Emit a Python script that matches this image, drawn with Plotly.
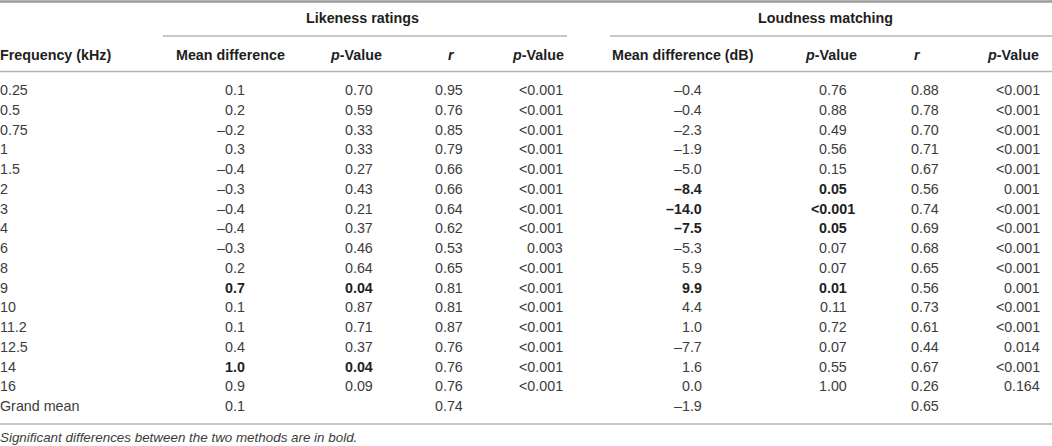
import plotly.graph_objects as go

# ---------------- data ----------------
freq_labels = ["0.25", "0.5", "0.75", "1", "1.5", "2", "3", "4", "6", "8", "9",
               "10", "11.2", "12.5", "14", "16", "Grand mean"]

lr_mean = [0.1, 0.2, -0.2, 0.3, -0.4, -0.3, -0.4, -0.4, -0.3, 0.2, 0.7,
           0.1, 0.1, 0.4, 1.0, 0.9, 0.1]
lr_p = ["0.70", "0.59", "0.33", "0.33", "0.27", "0.43", "0.21", "0.37", "0.46",
        "0.64", "0.04", "0.87", "0.71", "0.37", "0.04", "0.09", ""]
lr_r = [0.95, 0.76, 0.85, 0.79, 0.66, 0.66, 0.64, 0.62, 0.53, 0.65, 0.81,
        0.81, 0.87, 0.76, 0.76, 0.76, 0.74]
lr_rp = ["<0.001", "<0.001", "<0.001", "<0.001", "<0.001", "<0.001", "<0.001",
         "<0.001", "0.003", "<0.001", "<0.001", "<0.001", "<0.001", "<0.001",
         "<0.001", "<0.001", ""]
lr_bold = [False] * 10 + [True] + [False] * 3 + [True] + [False] * 2

lm_mean = [-0.4, -0.4, -2.3, -1.9, -5.0, -8.4, -14.0, -7.5, -5.3, 5.9, 9.9,
           4.4, 1.0, -7.7, 1.6, 0.0, -1.9]
lm_p = ["0.76", "0.88", "0.49", "0.56", "0.15", "0.05", "<0.001", "0.05", "0.07",
        "0.07", "0.01", "0.11", "0.72", "0.07", "0.55", "1.00", ""]
lm_r = [0.88, 0.78, 0.70, 0.71, 0.67, 0.56, 0.74, 0.69, 0.68, 0.65, 0.56,
        0.73, 0.61, 0.44, 0.67, 0.26, 0.65]
lm_rp = ["<0.001", "<0.001", "<0.001", "<0.001", "<0.001", "0.001", "<0.001",
         "<0.001", "<0.001", "<0.001", "0.001", "<0.001", "<0.001", "0.014",
         "<0.001", "0.164", ""]
lm_bold = [False] * 5 + [True, True, True] + [False] * 2 + [True] + [False] * 6

group_titles = ["Likeness ratings", "Loudness matching"]
col_headers = ["Mean difference", "<i>p</i>-Value", "<i>r</i>", "<i>p</i>-Value",
               "Mean difference (dB)", "<i>p</i>-Value", "<i>r</i>", "<i>p</i>-Value"]
first_header = "Frequency (kHz)"
footnote = "Significant differences between the two methods are in bold."

# ---------------- style / layout ----------------
W, H = 1052, 446
FONT = "Liberation Sans, Arial, sans-serif"
FS = 14.3
TXT = "#3c3c3c"
HEAD = "#1e1e1e"
RULE = "#b4b4b4"

DIGIT = 0.556 * FS
DOT = 0.278 * FS

row_y0, row_dy = 90, 19.75
hdr_y, grp_y = 55, 18
# decimal-point positions of the numeric columns
dec_x = [233.3, 353.5, 443.5, 534.7, 690.0, 827.5, 919.5, 1011.7]
hdr_cx = [230, 356, 451, 538, 683, 831, 917, 1013]


def fmt1(v):
    return f"{v:.1f}".replace("-", "\u2013")


def fmt2(v):
    return f"{v:.2f}"


def ndec(s):
    return len(s.split(".")[1]) if "." in s else 0


annotations = []


def add_text(x, y, text, anchor="center", bold=False, color=TXT, size=FS, italic=False):
    t = text
    if bold:
        t = f"<b>{t}</b>"
    if italic:
        t = f"<i>{t}</i>"
    annotations.append(dict(x=x, y=y, xref="x", yref="y", text=t, showarrow=False,
                            xanchor=anchor, yanchor="middle", borderpad=0, borderwidth=0,
                            font=dict(family=FONT, size=size, color=color)))


def add_num(col, y, s, bold=False):
    if not s:
        return
    right = dec_x[col] + DOT + ndec(s) * DIGIT
    add_text(right, y, s, anchor="right", bold=bold, color=HEAD if bold else TXT)


# headers
add_text(0, hdr_y, first_header, anchor="left", bold=True, color=HEAD)
for i, h in enumerate(col_headers):
    add_text(hdr_cx[i], hdr_y, h, bold=True, color=HEAD)
add_text(362, grp_y, group_titles[0], bold=True, color=HEAD)
add_text(825, grp_y, group_titles[1], bold=True, color=HEAD)

# body
for i, lab in enumerate(freq_labels):
    y = row_y0 + i * row_dy
    add_text(0, y, lab, anchor="left")
    add_num(0, y, fmt1(lr_mean[i]), lr_bold[i])
    add_num(1, y, lr_p[i], lr_bold[i])
    add_num(2, y, fmt2(lr_r[i]))
    add_num(3, y, lr_rp[i])
    add_num(4, y, fmt1(lm_mean[i]), lm_bold[i])
    add_num(5, y, lm_p[i], lm_bold[i])
    add_num(6, y, fmt2(lm_r[i]))
    add_num(7, y, lm_rp[i])

add_text(0, 437.5, footnote, anchor="left", italic=True, size=13.4)

shapes = [
    dict(type="line", xref="x", yref="y", x0=0, x1=W, y0=1.5, y1=1.5,
         line=dict(color="#9a9a9a", width=2.5)),
    dict(type="line", xref="x", yref="y", x0=163, x1=567, y0=36, y1=36,
         line=dict(color=RULE, width=1.5)),
    dict(type="line", xref="x", yref="y", x0=610, x1=W, y0=36, y1=36,
         line=dict(color=RULE, width=1.5)),
    dict(type="line", xref="x", yref="y", x0=0, x1=W, y0=71.5, y1=71.5,
         line=dict(color=RULE, width=1.5)),
    dict(type="line", xref="x", yref="y", x0=0, x1=W, y0=424, y1=424,
         line=dict(color=RULE, width=1.5)),
]

fig = go.Figure()
fig.update_layout(
    width=W, height=H, margin=dict(l=0, r=0, t=0, b=0),
    paper_bgcolor="white", plot_bgcolor="white",
    xaxis=dict(range=[0, W], visible=False, fixedrange=True),
    yaxis=dict(range=[H, 0], visible=False, fixedrange=True),
    annotations=annotations, shapes=shapes, showlegend=False,
)
fig.write_html(
    "out.html",
    config={"displayModeBar": False},
    post_script="document.body.style.margin='0';document.body.style.overflow='hidden';",
)
